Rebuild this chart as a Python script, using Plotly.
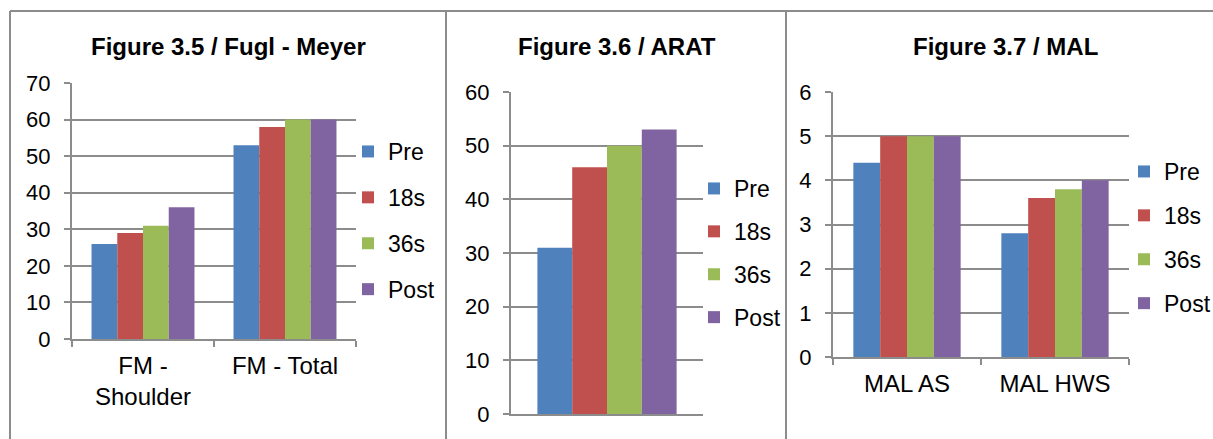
import plotly.graph_objects as go

# ---- data ----
series = ["Pre", "18s", "36s", "Post"]
colors = ["#4F81BD", "#C0504D", "#9BBB59", "#8064A2"]

fm_categories = ["FM -<br>Shoulder", "FM - Total"]
fm_pre = [26, 53]
fm_18s = [29, 58]
fm_36s = [31, 60]
fm_post = [36, 60]

arat_categories = [""]
arat_pre = [31]
arat_18s = [46]
arat_36s = [50]
arat_post = [53]

mal_categories = ["MAL AS", "MAL HWS"]
mal_pre = [4.4, 2.8]
mal_18s = [5.0, 3.6]
mal_36s = [5.0, 3.8]
mal_post = [5.0, 4.0]

titles = ["Figure 3.5 / Fugl - Meyer", "Figure 3.6 / ARAT", "Figure 3.7 / MAL"]

W, H = 1213, 439
FONT = "Liberation Sans, Arial, sans-serif"
GRID = "#8c8c8c"


def px(x):
    return x / W


def py(y):
    return 1 - y / H


fig = go.Figure()

panels = [
    ("x", "y", "legend", fm_categories, [fm_pre, fm_18s, fm_36s, fm_post]),
    ("x2", "y2", "legend2", arat_categories, [arat_pre, arat_18s, arat_36s, arat_post]),
    ("x3", "y3", "legend3", mal_categories, [mal_pre, mal_18s, mal_36s, mal_post]),
]

for p, (xa, ya, lg, cats, vals) in enumerate(panels):
    for i, (name, col, v) in enumerate(zip(series, colors, vals)):
        fig.add_trace(go.Bar(
            x=cats, y=v, name=name, xaxis=xa, yaxis=ya, legend=lg,
            legendgroup=f"{lg}-{name}",
            marker=dict(color=col, line=dict(width=0)),
        ))

ytickfont = dict(family=FONT, size=22, color="#000000")
xtickfont = dict(family=FONT, size=24, color="#000000")


def yaxis(domain_px, rng, dtick, anchor):
    return dict(
        domain=[py(domain_px[1]), py(domain_px[0])], range=rng, dtick=dtick,
        anchor=anchor, showgrid=True, gridcolor=GRID, gridwidth=2,
        showline=True, linecolor=GRID, linewidth=2,
        ticks="outside", ticklen=6, tickwidth=2, tickcolor=GRID,
        tickfont=ytickfont, ticklabelstandoff=9, zeroline=False,
        fixedrange=True, automargin=False,
    )


def xaxis(domain_px, anchor, labels=True):
    d = dict(
        domain=[px(domain_px[0]), px(domain_px[1])], anchor=anchor,
        type="category", showline=True, linecolor=GRID, linewidth=2,
        showgrid=False, zeroline=False, fixedrange=True, tickfont=xtickfont,
        automargin=False,
    )
    if labels:
        d.update(ticks="outside", tickson="boundaries", ticklen=6, tickwidth=2,
                 tickcolor=GRID, ticklabelstandoff=4)
    else:
        d.update(ticks="", showticklabels=False)
    return d


legend_common = dict(
    font=dict(family=FONT, size=23, color="#000000"),
    bgcolor="rgba(0,0,0,0)", borderwidth=0, xanchor="left", yanchor="middle",
    itemclick=False, itemdoubleclick=False,
)

fig.update_layout(
    width=W, height=H,
    margin=dict(l=0, r=0, t=0, b=0, pad=0, autoexpand=False),
    paper_bgcolor="white", plot_bgcolor="white",
    barmode="group", bargap=0.275, bargroupgap=0,
    xaxis=xaxis((72, 356), "y"),
    yaxis=yaxis((83, 339), [0, 70], 10, "x"),
    xaxis2=xaxis((511, 703), "y2", labels=False),
    yaxis2=yaxis((92, 414), [0, 60], 10, "x2"),
    xaxis3=xaxis((833, 1129), "y3"),
    yaxis3=yaxis((92, 357), [0, 6], 1, "x3"),
    legend=dict(legend_common, x=px(348), y=py(220.5), tracegroupgap=13),
    legend2=dict(legend_common, x=px(694), y=py(253), tracegroupgap=10),
    legend3=dict(legend_common, x=px(1124), y=py(237.5), tracegroupgap=11),
    showlegend=True,
)

# chart titles
for t, cx in zip(titles, [228, 617, 1005]):
    fig.add_annotation(
        text=f"<b>{t}</b>", x=px(cx), y=py(46), xref="paper", yref="paper",
        xanchor="center", yanchor="middle", showarrow=False,
        font=dict(family=FONT, size=24, color="#000000"),
    )

# frame around the three charts
frame = dict(type="line", xref="paper", yref="paper",
             line=dict(color="#8c8c8c", width=2))
fig.add_shape(frame, x0=px(10), x1=1, y0=py(11), y1=py(11))
for xv in (10, 446, 786):
    fig.add_shape(frame, x0=px(xv), x1=px(xv), y0=py(11), y1=0)

# page without the browser's default body margin
fig.write_html(
    "out.html",
    post_script="document.body.style.margin='0';document.body.style.overflow='hidden';",
)
